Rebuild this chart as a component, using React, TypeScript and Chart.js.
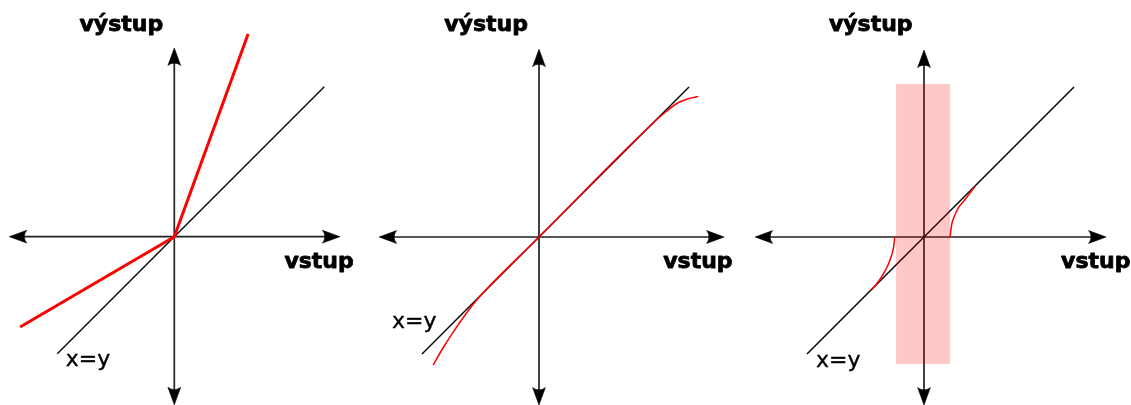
import React, { useEffect, useRef } from "react";
import { Chart, registerables } from "chart.js";

Chart.register(...registerables);

// ---------- data (units: 1 = one grid step of the sketch) ----------
// identity line x = y (same extent in all three panels)
const identityX = [-3.9, 5.0];

// panel 1: asymmetric gain (piecewise linear)
const p1RedX = [-5.14, 0, 2.46];
const p1RedY = [-3.01, 0, 6.76];

// panel 2: linear in the middle, bending at both ends
const p2RedX = [-3.53, -3.2, -2.86, -2.5, -2.2, -1.9, 0, 3.8, 4.2, 4.59, 4.95, 5.31];
const p2RedY = [-4.27, -3.7, -3.17, -2.65, -2.25, -1.9, 0, 3.8, 4.15, 4.45, 4.6, 4.68];

// panel 3: dead zone
const p3RightX = [0.87, 0.92, 1.03, 1.14, 1.37, 1.7];
const p3RightY = [0, 0.4, 0.73, 0.96, 1.25, 1.68];
const p3LeftX = [-1.74, -1.52, -1.3, -1.13, -1.02, -0.97];
const p3LeftY = [-1.76, -1.48, -1.14, -0.76, -0.37, 0];
const p3BandX = [-0.93, 0.87];
const p3BandY = [-4.23, 5.1];

// axis arrow extents [negative tip, positive tip]
const axisXExtents = [
  [-5.5, 5.52],
  [-5.33, 6.17],
  [-5.63, 6.07],
];
const axisYExtents = [
  [-5.6, 6.29],
  [-5.6, 6.26],
  [-5.6, 6.23],
];

// text labels
const outLabel = "výstup";
const inLabel = "vstup";
const idLabel = "x=y";

// ---------- layout ----------
const PANEL_W = 377;
const PANEL_H = 405;
const UNIT = 30; // px per unit
// origin (px) inside each panel canvas
const origins = [
  { x: 174.3, y: 236.7 },
  { x: 162, y: 237 },
  { x: 170, y: 237 },
];
// label anchors (data units, left/baseline)
const labelPos = [
  { out: [-3.16, 6.87], inp: [3.67, -1.04], id: [-3.62, -4.31] },
  { out: [-3.16, 6.88], inp: [4.14, -1.03], id: [-4.9, -3.03] },
  { out: [-3.17, 6.88], inp: [4.57, -1.03], id: [-3.6, -4.32] },
];

type Pt = { x: number; y: number };
const zip = (xs: number[], ys: number[]): Pt[] => xs.map((x, i) => ({ x, y: ys[i] }));

function drawArrow(ctx: CanvasRenderingContext2D, tx: number, ty: number, dx: number, dy: number) {
  const L = 17.5;
  const W = 6.4;
  const px = -dy;
  const py = dx;
  const bx = tx - dx * L;
  const by = ty - dy * L;
  const c = L * 0.82;
  const c1x = tx - dx * c + px * W * 0.4;
  const c1y = ty - dy * c + py * W * 0.4;
  const c2x = tx - dx * c - px * W * 0.4;
  const c2y = ty - dy * c - py * W * 0.4;
  ctx.beginPath();
  ctx.moveTo(tx, ty);
  ctx.lineTo(bx + px * W, by + py * W);
  ctx.bezierCurveTo(c1x, c1y, c2x, c2y, bx - px * W, by - py * W);
  ctx.closePath();
  ctx.fill();
  ctx.lineWidth = 0.6;
  ctx.stroke();
}

function makeDecor(i: number) {
  return {
    id: "decor" + i,
    beforeDatasetsDraw(chart: any) {
      const { ctx, scales } = chart;
      const sx = scales.x;
      const sy = scales.y;
      const ox = sx.getPixelForValue(0);
      const oy = sy.getPixelForValue(0);
      const xl = sx.getPixelForValue(axisXExtents[i][0]);
      const xr = sx.getPixelForValue(axisXExtents[i][1]);
      const yb = sy.getPixelForValue(axisYExtents[i][0]);
      const yt = sy.getPixelForValue(axisYExtents[i][1]);
      ctx.save();
      ctx.strokeStyle = "#222";
      ctx.fillStyle = "#000";
      ctx.lineWidth = 1.7;
      ctx.beginPath();
      ctx.moveTo(xl + 12, oy);
      ctx.lineTo(xr - 12, oy);
      ctx.moveTo(ox, yt + 12);
      ctx.lineTo(ox, yb - 12);
      ctx.stroke();
      ctx.strokeStyle = "#000";
      drawArrow(ctx, xl, oy, -1, 0);
      drawArrow(ctx, xr, oy, 1, 0);
      drawArrow(ctx, ox, yt, 0, -1);
      drawArrow(ctx, ox, yb, 0, 1);
      ctx.restore();
    },
    afterDatasetsDraw(chart: any) {
      const { ctx, scales } = chart;
      const sx = scales.x;
      const sy = scales.y;
      ctx.save();
      if (i === 2) {
        const x0 = sx.getPixelForValue(p3BandX[0]);
        const x1 = sx.getPixelForValue(p3BandX[1]);
        const y0 = sy.getPixelForValue(p3BandY[1]);
        const y1 = sy.getPixelForValue(p3BandY[0]);
        ctx.fillStyle = "rgba(255,0,0,0.22)";
        ctx.fillRect(x0, y0, x1 - x0, y1 - y0);
      }
      const lp = labelPos[i];
      ctx.fillStyle = "#000";
      ctx.strokeStyle = "#000";
      ctx.textAlign = "left";
      ctx.textBaseline = "alphabetic";
      ctx.lineJoin = "round";
      ctx.font = 'bold 22px "DejaVu Sans"';
      ctx.lineWidth = 0.8;
      const ox1 = sx.getPixelForValue(lp.out[0]);
      const oy1 = sy.getPixelForValue(lp.out[1]);
      ctx.fillText(outLabel, ox1, oy1);
      ctx.strokeText(outLabel, ox1, oy1);
      const ix1 = sx.getPixelForValue(lp.inp[0]);
      const iy1 = sy.getPixelForValue(lp.inp[1]);
      ctx.fillText(inLabel, ix1, iy1);
      ctx.strokeText(inLabel, ix1, iy1);
      ctx.font = '22px "DejaVu Sans"';
      ctx.lineWidth = 0.4;
      const dx1 = sx.getPixelForValue(lp.id[0]);
      const dy1 = sy.getPixelForValue(lp.id[1]);
      ctx.fillText(idLabel, dx1, dy1);
      ctx.strokeText(idLabel, dx1, dy1);
      ctx.restore();
    },
  };
}

function redSets(i: number) {
  const base = {
    borderColor: "#ff0000",
    pointRadius: 0,
    showLine: true,
    fill: false,
    cubicInterpolationMode: "monotone" as const,
  };
  if (i === 0)
    return [{ ...base, data: zip(p1RedX, p1RedY), borderWidth: 3, cubicInterpolationMode: "default" as const, tension: 0 }];
  if (i === 1) return [{ ...base, data: zip(p2RedX, p2RedY), borderWidth: 1.5 }];
  return [
    { ...base, data: zip(p3RightX, p3RightY), borderWidth: 1.5 },
    { ...base, data: zip(p3LeftX, p3LeftY), borderWidth: 1.5 },
  ];
}

function Panel({ index }: { index: number }) {
  const ref = useRef<HTMLCanvasElement>(null);
  useEffect(() => {
    const o = origins[index];
    const chart = new Chart(ref.current as HTMLCanvasElement, {
      type: "scatter",
      data: {
        datasets: [
          ...redSets(index),
          {
            data: zip(identityX, identityX),
            borderColor: "#000",
            borderWidth: 1.35,
            pointRadius: 0,
            showLine: true,
            fill: false,
          },
        ] as any,
      },
      options: {
        animation: false,
        responsive: false,
        devicePixelRatio: 1,
        events: [],
        layout: { padding: 0 },
        plugins: { legend: { display: false }, tooltip: { enabled: false } },
        scales: {
          x: { type: "linear", display: false, min: -o.x / UNIT, max: (PANEL_W - o.x) / UNIT },
          y: { type: "linear", display: false, min: (o.y - PANEL_H) / UNIT, max: o.y / UNIT },
        },
      },
      plugins: [makeDecor(index)],
    });
    return () => chart.destroy();
  }, [index]);
  return (
    <canvas
      ref={ref}
      width={PANEL_W}
      height={PANEL_H}
      style={{ position: "absolute", left: index * PANEL_W, top: 0, width: PANEL_W, height: PANEL_H }}
    />
  );
}

export default function App() {
  return (
    <div style={{ position: "fixed", left: 0, top: 0, width: 1131, height: 405, background: "#fff" }}>
      <Panel index={0} />
      <Panel index={1} />
      <Panel index={2} />
    </div>
  );
}
